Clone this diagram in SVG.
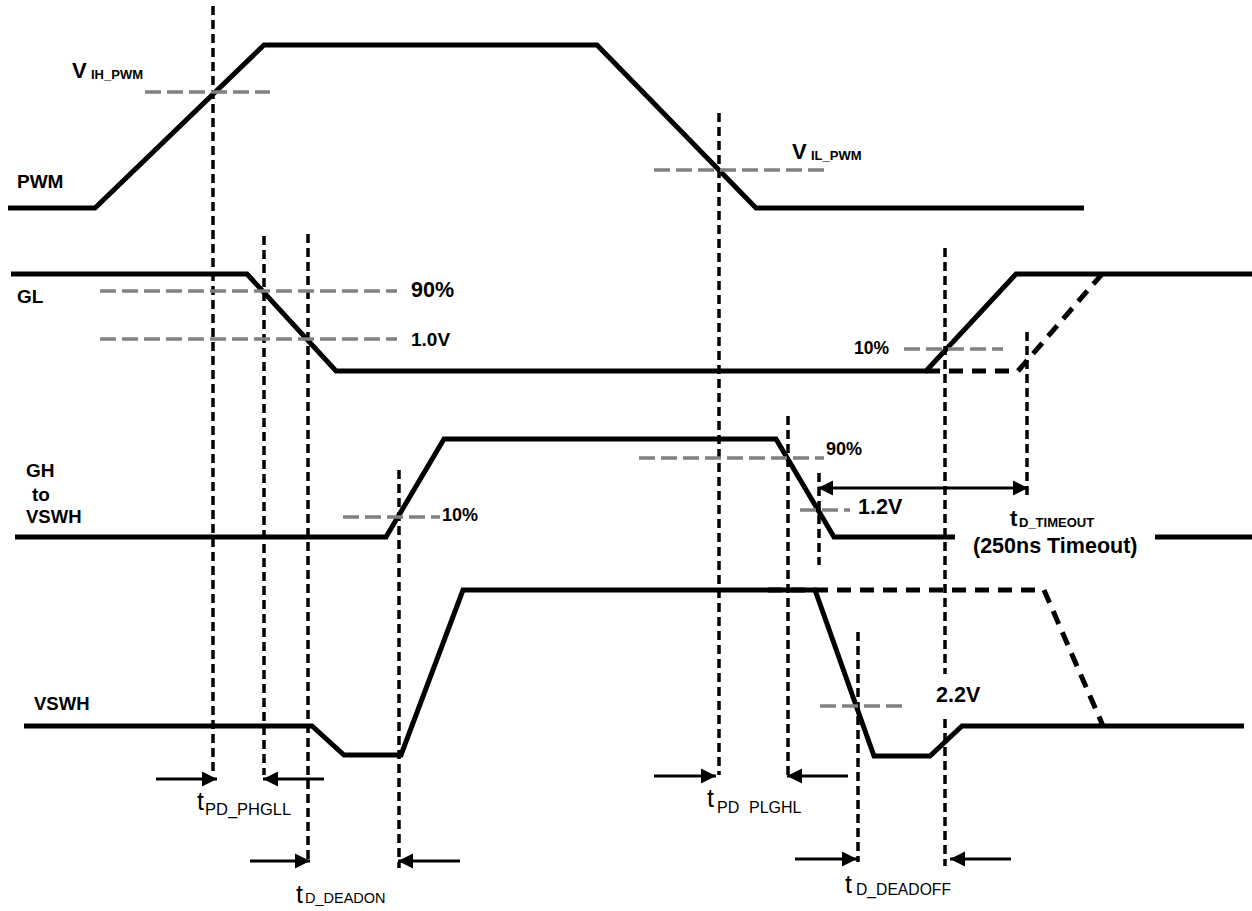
<svg xmlns="http://www.w3.org/2000/svg" width="1252" height="911" viewBox="0 0 1252 911">
<style>
text{font-family:"Liberation Sans",Arial,sans-serif;fill:#000}
.b{font-weight:bold;font-size:19px}
.sig{fill:none;stroke:#000;stroke-width:5;stroke-linejoin:miter}
.sigd{fill:none;stroke:#000;stroke-width:5;stroke-dasharray:14 9}
.v{fill:none;stroke:#000;stroke-width:3.5;stroke-dasharray:9 5}
.g{fill:none;stroke:#808080;stroke-width:3.5;stroke-dasharray:16 6}
.a{fill:none;stroke:#000;stroke-width:3}
.t{font-size:25px}
.s{font-size:16px}
.vv{font-weight:bold;font-size:22px}
.vs{font-weight:bold;font-size:13px}
.l{font-weight:bold;font-size:21.5px}
</style>
<defs>
<marker id="ah" markerUnits="userSpaceOnUse" markerWidth="16" markerHeight="16" refX="15" refY="8" orient="auto-start-reverse" viewBox="0 0 16 16"><path d="M0 0.5L15 8L0 15.5Z" fill="#000"/></marker>
</defs>
<rect width="1252" height="911" fill="#fff"/>
<g id="connectors">
<path class="sig" d="M8 208H95L264 45H597L756 208H1084"/>
<path class="sig" d="M11 274H247L336 371H926L1016 274H1252"/>
<path class="sigd" d="M926 371H1018L1102 274"/>
<path class="sig" d="M15 537H386L444 439H776L834 537H955M1155 537H1252"/>
<path class="sig" d="M24 726H312L344 755H401L463 590H815L874 756H930L962 726H1244"/>
<path class="sigd" d="M768 590H1044L1103 726"/>
<path class="v" d="M213 6V775M264 236V775M308 234V860M399 470V868M719 113V775M788 416V775M858 632V862M945 248V674M945 719V866M1027 332V495M819 473V565"/>
<path class="g" d="M145 92H270M100 291H397M100 339H397M654 170H830M904 349H1003M343 517H440M639 458H824M800 510H850M820 706H906"/>
<path class="a" marker-end="url(#ah)" d="M156 779H217"/>
<path class="a" marker-end="url(#ah)" d="M324 779H263"/>
<path class="a" marker-end="url(#ah)" d="M250 861H310"/>
<path class="a" marker-end="url(#ah)" d="M460 861H398"/>
<path class="a" marker-end="url(#ah)" d="M654 776H716"/>
<path class="a" marker-end="url(#ah)" d="M848 776H787"/>
<path class="a" marker-end="url(#ah)" d="M795 859H857"/>
<path class="a" marker-end="url(#ah)" d="M1011 859H950"/>
<path class="a" marker-start="url(#ah)" marker-end="url(#ah)" d="M818 488H1028"/>
</g>
<g id="labels">
<text x="72" y="78" class="vv">V</text><text x="91" y="79" class="vs">IH_PWM</text>
<text x="17" y="188" class="b">PWM</text>
<text x="17" y="303" class="b">GL</text>
<text x="411" y="297" class="l">90%</text>
<text x="411" y="346" class="b">1.0V</text>
<text x="792" y="159" class="vv">V</text><text x="811" y="160" class="vs">IL_PWM</text>
<text x="26" y="477" class="b">GH</text>
<text x="32" y="501" class="b">to</text>
<text x="26" y="523" class="b" style="font-size:18.5px">VSWH</text>
<text x="442" y="521" class="b" style="font-size:18px">10%</text>
<text x="826" y="455" class="b" style="font-size:18px">90%</text>
<text x="858" y="514" class="l">1.2V</text>
<text x="854" y="354" class="b" style="font-size:17.5px">10%</text>
<text x="1010" y="526" class="vv">t</text><text x="1019" y="527" class="vs">D_TIMEOUT</text>
<text x="973" y="553" class="l">(250ns Timeout)</text>
<text x="34" y="710" class="b" style="font-size:18.5px">VSWH</text>
<text x="936" y="702" class="l">2.2V</text>
<text x="197" y="810" class="t">t</text><text x="205" y="815" class="s" style="font-size:16.5px">PD_PHGLL</text>
<text x="296" y="903" class="t">t</text><text x="305" y="903" class="s" style="font-size:14.5px">D_DEADON</text>
<text x="707" y="807" class="t">t</text><text y="813" class="s"><tspan x="717">PD</tspan><tspan x="749">PLGHL</tspan></text>
<text x="845" y="893" class="t">t</text><text x="856" y="895" class="s" style="font-size:15.7px">D_DEADOFF</text>
</g>
</svg>
